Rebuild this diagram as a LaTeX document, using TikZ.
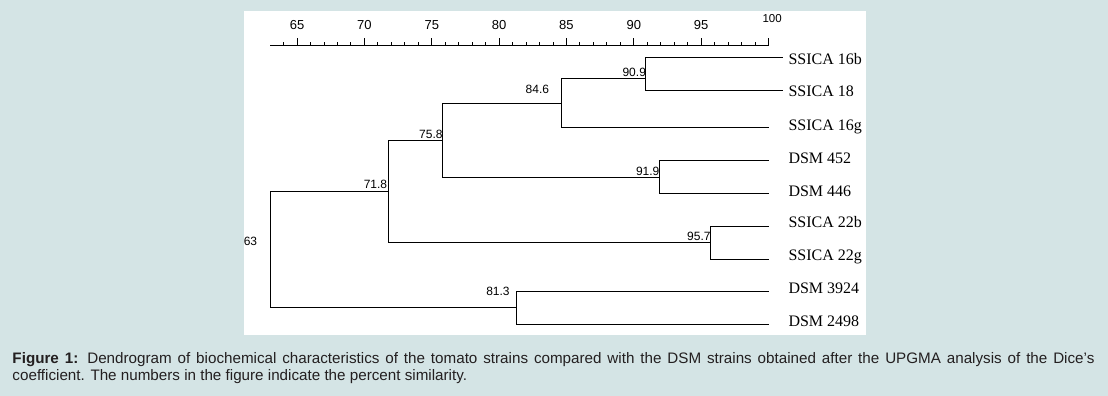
\documentclass[tikz,border=0pt]{standalone}
\usepackage{fontspec}
\setmainfont{Liberation Serif}
\setsansfont{Liberation Sans}
\definecolor{pagebg}{RGB}{212,228,229}
\definecolor{captext}{RGB}{35,31,32}
\begin{document}
\begin{tikzpicture}[x=1pt,y=-1pt,
	every node/.style={inner sep=0pt,outer sep=0pt},
	branch/.style={line width=1pt},
	sim/.style={font=\sffamily\fontsize{12}{12}\selectfont,anchor=base east},
	strain/.style={font=\rmfamily\fontsize{16}{16}\selectfont,anchor=base west},
	scalelab/.style={font=\sffamily\fontsize{13}{13}\selectfont,anchor=base},
	caption/.style={font=\sffamily\fontsize{15.2}{17}\selectfont,text=captext,anchor=base west}]
\fill[pagebg] (0,0) rectangle (1108,396);
\useasboundingbox (0,0) rectangle (1108,396);
\fill[white] (244,11) rectangle (866,335);
\begin{scope}[x=13.47pt,xshift=-578.5pt]
% similarity scale
\draw[line width=1pt] (63,46) -- (100,46);
\foreach \v in {64,...,99}
	\draw[line width=0.9pt] (\v,46) -- (\v,42.5);
\foreach \v in {65,70,...,100}
	\draw[line width=1pt] (\v,46) -- (\v,38.5);
\foreach \v in {65,70,...,95}
	\node[scalelab] (s\v) at (\v,29.8) {\v};
\node[scalelab,font=\sffamily\fontsize{11.5}{11.5}\selectfont] (s100) at (100.27,23) {100};
% joins
\coordinate (j909) at (90.9,78.3);
\coordinate (j846) at (84.6,103.3);
\coordinate (j919) at (91.9,177);
\coordinate (j758) at (75.8,140.3);
\coordinate (j957) at (95.7,242.3);
\coordinate (j718) at (71.8,191.3);
\coordinate (j813) at (81.3,307.7);
\coordinate (j63) at (63,242);
% leaf ends
\coordinate (e16b) at (101.05,57.3);
\coordinate (e18) at (101.05,90.3);
\coordinate (e16g) at (100,127.3);
\coordinate (e452) at (100,160.3);
\coordinate (e446) at (100,193.3);
\coordinate (e22b) at (100,226);
\coordinate (e22g) at (100,259.3);
\coordinate (e3924) at (100,291);
\coordinate (e2498) at (100,324.3);
\end{scope}
\draw[branch] (e16b) -| (j909);
\draw[branch] (e18) -| (j909);
\draw[branch] (j909) -| (j846);
\draw[branch] (e16g) -| (j846);
\draw[branch] (e452) -| (j919);
\draw[branch] (e446) -| (j919);
\draw[branch] (j846) -| (j758);
\draw[branch] (j919) -| (j758);
\draw[branch] (e22b) -| (j957);
\draw[branch] (e22g) -| (j957);
\draw[branch] (j758) -| (j718);
\draw[branch] (j957) -| (j718);
\draw[branch] (e3924) -| (j813);
\draw[branch] (e2498) -| (j813);
\draw[branch] (j718) -| (j63);
\draw[branch] (j813) -| (j63);
\node[sim] (t909) at ([yshift=2pt]j909) {90.9};
\node[sim] (t846) at ([xshift=-12pt,yshift=10pt]j846) {84.6};
\node[sim] (t919) at ([yshift=2pt]j919) {91.9};
\node[sim] (t758) at ([yshift=1.5pt]j758) {75.8};
\node[sim] (t957) at ([yshift=2pt]j957) {95.7};
\node[sim] (t718) at ([xshift=-1.5pt,yshift=2.5pt]j718) {71.8};
\node[sim] (t813) at ([xshift=-7pt,yshift=12.7pt]j813) {81.3};
\node[sim] (t63) at ([xshift=-13pt,yshift=-3.3pt]j63) {63};
\node[strain] (l16b) at (788.5,64) {SSICA 16b};
\node[strain] (l18) at (788.5,96.7) {SSICA 18};
\node[strain] (l16g) at (788.5,130.7) {SSICA 16g};
\node[strain] (l452) at (788.5,163.3) {DSM 452};
\node[strain] (l446) at (788.5,196) {DSM 446};
\node[strain] (l22b) at (788.5,227.7) {SSICA 22b};
\node[strain] (l22g) at (788.5,260.7) {SSICA 22g};
\node[strain] (l3924) at (788.5,293.3) {DSM 3924};
\node[strain] (l2498) at (788.5,326.7) {DSM 2498};
\node[caption] (cap1) at (12.5,363.3) {\makebox[1082pt][s]{\textbf{Figure 1:} Dendrogram of biochemical characteristics of the tomato strains compared with the DSM strains obtained after the UPGMA analysis of the Dice’s}};
\node[caption] (cap2) at (12.5,380.3) {coefficient. The numbers in the figure indicate the percent similarity.};
\end{tikzpicture}
\end{document}
